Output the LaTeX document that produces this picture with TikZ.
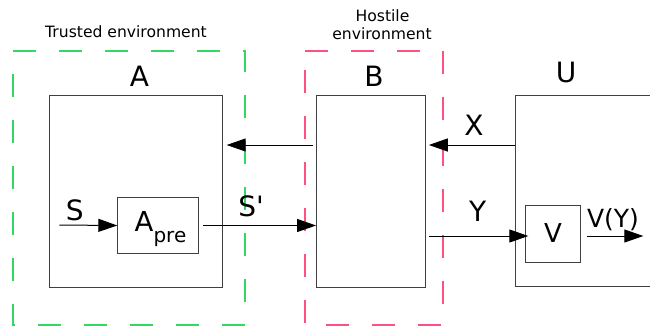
\documentclass[tikz,border=0pt]{standalone}
\usepackage{fontspec}
\setmainfont{DejaVu Sans}
\usetikzlibrary{arrows.meta}
\definecolor{tgreen}{RGB}{50,215,100}
\definecolor{hpink}{RGB}{255,80,130}
\begin{document}
\begin{tikzpicture}[x=1pt,y=-1pt,
 blk/.style={draw=black!75,line width=1pt,inner sep=0,outer sep=0,rectangle},
 conn/.style={draw=black,line width=1pt,-{Triangle[length=19pt,width=13pt]}},
 big/.style={font=\fontsize{28}{30}\selectfont,inner sep=0,anchor=base},
 small/.style={font=\fontsize{15.6}{18}\selectfont,inner sep=0,anchor=base},
 env/.style={line width=1.3pt,dash pattern=on 23pt off 23pt}]
\useasboundingbox (0,0) rectangle (650,327);
\clip (0,0) rectangle (650,327);
% environments
\draw[env,color=tgreen] (13,51) -- (245,51) -- (245,325) -- (13,325) -- cycle;
\draw[env,color=hpink] (305,51) -- (443,51) -- (443,325) -- (305,325) -- cycle;
\node[small] (trusted) at (126,37.3) {Trusted environment};
\node[small] (hostile1) at (382.5,21.7) {Hostile};
\node[small] (hostile2) at (382,39.3) {environment};
% boxes
\node[blk,minimum width=173.4pt,minimum height=191.6pt] (A) at (136,191.5) {};
\node[blk,minimum width=109.3pt,minimum height=191.7pt] (B) at (370.7,191.8) {};
\node[blk,minimum width=184.7pt,minimum height=191.4pt] (U) at (607.6,191) {};
\node[blk,minimum width=81.4pt,minimum height=56.3pt] (apre) at (158,225.5) {};
\node[blk,minimum width=55.4pt,minimum height=57.7pt] (V) at (553,233.85) {};
% box labels
\node[big] (lA) at (139.5,86) {A};
\node[big] (lB) at (374,86) {B};
\node[big] (lU) at (566,82) {U};
\node[inner sep=0,anchor=base west,font=\fontsize{27.5}{30}\selectfont] (lapre) at (134.5,231.7) {A\raisebox{-11pt}{\fontsize{20}{22}\selectfont pre}};
\node[inner sep=0,anchor=base,font=\fontsize{26}{28}\selectfont] (lV) at (553,242.7) {V};
% connectors
\coordinate (sin) at (59.3,225);
\coordinate (r1) at (0,145);
\coordinate (r2) at (0,236);
\coordinate (vout) at (643.3,236);
\draw[conn] (sin) -- (apre.west);
\draw[conn,shorten <=4.5pt] (apre.east) -- (apre.east -| B.west);
\draw[conn,shorten <=3pt,shorten >=4pt] (r1 -| B.west) -- (r1 -| A.east);
\draw[conn,shorten >=3.5pt] (r1 -| U.west) -- (r1 -| B.east);
\draw[conn,shorten <=4pt,shorten >=-3pt] (r2 -| B.east) -- (r2 -| V.west);
\draw[conn,shorten <=6pt] (r2 -| V.east) -- (vout);
% connector labels
\node[big] (lS) at (74.7,220) {S};
\node[big] (lS2) at (251,216.7) {S\textquotesingle};
\node[big] (lX) at (474,135) {X};
\node[big] (lY) at (477.7,221.7) {Y};
\node[inner sep=0,anchor=base,font=\fontsize{25}{27}\selectfont] (lVY) at (613,227) {V(Y)};
\end{tikzpicture}
\end{document}
